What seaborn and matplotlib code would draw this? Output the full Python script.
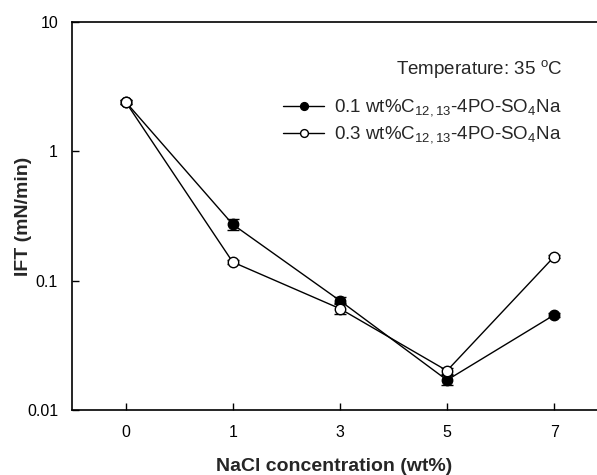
import numpy as np
import pandas as pd
import matplotlib
matplotlib.use("Agg")
import matplotlib.pyplot as plt
import seaborn as sns

categories = ["0", "1", "3", "5", "7"]
ift_01 = [2.41, 0.272, 0.070, 0.0170, 0.0542]
err_01 = [0.08, 0.025, 0.004, 0.0015, 0.002]
ift_03 = [2.41, 0.139, 0.0607, 0.0201, 0.153]
err_03 = [0.08, 0.004, 0.006, 0.001, 0.004]
label_01 = r"0.1 wt%C$_{\mathregular{12,13}}$-4PO-SO$_{\mathregular{4}}$Na"
label_03 = r"0.3 wt%C$_{\mathregular{12,13}}$-4PO-SO$_{\mathregular{4}}$Na"

sns.set_style("ticks")
plt.rcParams['font.family'] = ['Liberation Sans', 'DejaVu Sans']
plt.rcParams['mathtext.fontset'] = 'custom'
plt.rcParams['mathtext.rm'] = 'Liberation Sans'

pos = list(range(len(categories)))
df = pd.DataFrame({
    "pos": pos * 2,
    "ift": ift_01 + ift_03,
    "series": [label_01] * len(pos) + [label_03] * len(pos),
})

fig = plt.figure(figsize=(5.97, 4.75), dpi=100)
ax = fig.add_axes([0.1206, 0.137, 0.8794, 0.817])

for lab, errs, face in [(label_01, err_01, "black"), (label_03, err_03, "white")]:
    sub = df[df.series == lab]
    ax.errorbar(sub["pos"], sub["ift"], yerr=errs, fmt="none", ecolor="black",
                elinewidth=1, capsize=4, capthick=1, zorder=2)
    sns.lineplot(x="pos", y="ift", data=sub, ax=ax, color="black", linewidth=1,
                 marker="o", markersize=7.5, markerfacecolor=face,
                 markeredgecolor="black", markeredgewidth=1, label=lab, zorder=3)

ax.set_yscale("log")
ax.set_ylim(0.01, 10)
ax.set_xlim(-0.5, 4.4)
ax.set_yticks([0.01, 0.1, 1, 10])
ax.set_yticklabels(["0.01", "0.1", "1", "10"])
ax.yaxis.set_minor_locator(matplotlib.ticker.NullLocator())
ax.set_xticks(pos)
ax.set_xticklabels(categories)
ax.tick_params(axis="both", direction="in", length=5, width=1, labelsize=11.5, colors="black")
ax.tick_params(axis="y", pad=10)
ax.tick_params(axis="x", pad=11)
ax.spines["right"].set_visible(False)
for s in ["left", "bottom", "top"]:
    ax.spines[s].set_linewidth(1.2)
    ax.spines[s].set_color("black")

ax.set_xlabel("NaCl concentration (wt%)", fontsize=14, fontweight="bold", labelpad=13)
ax.set_ylabel("IFT (mN/min)", fontsize=14, fontweight="bold")
ax.yaxis.set_label_coords(-0.076, 0.5)

ax.text(0.935, 0.876, r"Temperature: 35 $^{\mathregular{o}}$C", transform=ax.transAxes,
        ha="right", va="center", fontsize=13.5)

leg = ax.legend(loc="center left", bbox_to_anchor=(0.388, 0.742), frameon=False,
                fontsize=13.5, handlelength=2.2, handletextpad=0.5, labelspacing=0.3,
                borderaxespad=0, markerscale=0.75)

fig.savefig("out.png", dpi=100)
